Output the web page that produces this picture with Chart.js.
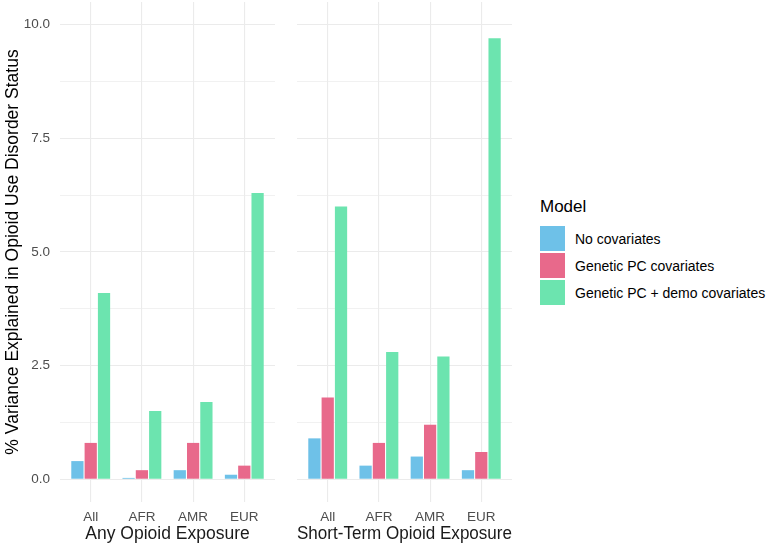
<!DOCTYPE html>
<html>
<head>
<meta charset="utf-8">
<script src="https://cdn.jsdelivr.net/npm/chart.js@4.4.1/dist/chart.umd.min.js"></script>
<style>
  html, body { margin: 0; padding: 0; background: #fff; }
  body { width: 768px; height: 546px; position: relative; overflow: hidden; font-family: 'Liberation Sans', Arial, Helvetica, sans-serif; }
  .wrap { position: absolute; top: 0; }
  #legend { position: absolute; left: 540px; top: 195px; }
  #legend .title { font-size: 17px; color: #000; height: 24px; line-height: 24px; margin-bottom: 6px; }
  #legend .item { display: flex; align-items: center; height: 27px; }
  #legend .sw { width: 25px; height: 25px; margin-right: 10px; }
  #legend .lab { font-size: 14px; color: #000; }
</style>
</head>
<body>
<div class="wrap" style="left:0px;"><canvas id="c1" width="280" height="546"></canvas></div>
<div class="wrap" style="left:292px;"><canvas id="c2" width="225" height="546"></canvas></div>
<div id="legend"></div>
<script>
// ---- data ----
const categories = ['All', 'AFR', 'AMR', 'EUR'];
const facetLabels = ['Any Opioid Exposure', 'Short-Term Opioid Exposure'];
const modelNames = ['No covariates', 'Genetic PC covariates', 'Genetic PC + demo covariates'];
const anyNoCov   = [0.4, 0.03, 0.2, 0.1];
const anyPC      = [0.8, 0.2, 0.8, 0.3];
const anyPCDemo  = [4.1, 1.5, 1.7, 6.3];
const shortNoCov  = [0.9, 0.3, 0.5, 0.2];
const shortPC     = [1.8, 0.8, 1.2, 0.6];
const shortPCDemo = [6.0, 2.8, 2.7, 9.7];
const yGridValues = [0, 1.25, 2.5, 3.75, 5, 6.25, 7.5, 8.75, 10];
const yLabelValues = [0, 2.5, 5, 7.5, 10];
const yMin = -0.5, yMax = 10.5;

const colors = ['#6EC1E8', '#E8698B', '#6CE4AF'];
const FONT = "'Liberation Sans', Arial, Helvetica, sans-serif";
const GRID = '#EBEBEB';

function isLabel(v) { return yLabelValues.some(l => Math.abs(l - v) < 1e-6); }

function ds(vals, i) {
  return {
    label: modelNames[i],
    data: vals.map((v, k) => ({ x: k, y: v })),
    backgroundColor: colors[i],
    borderWidth: 0,
    categoryPercentage: 0.78,
    barPercentage: 0.92
  };
}

function makeChart(id, series, facet, showY) {
  return new Chart(document.getElementById(id), {
    type: 'bar',
    data: { datasets: series.map((s, i) => ds(s, i)) },
    options: {
      responsive: false,
      animation: false,
      events: [],
      layout: { padding: { left: showY ? 0 : 5, right: 5, top: 2, bottom: 0 } },
      plugins: { legend: { display: false }, tooltip: { enabled: false } },
      scales: {
        x: {
          type: 'linear',
          min: -0.6, max: 3.6,
          offset: false,
          afterBuildTicks: s => { s.ticks = categories.map((c, i) => ({ value: i })); },
          afterFit: s => { s.height = 44; s.paddingLeft = 0; s.paddingRight = 0; },
          ticks: {
            autoSkip: false,
            maxRotation: 0,
            padding: 7,
            color: '#4D4D4D',
            font: { family: FONT, size: 13.5 },
            callback: v => categories[v]
          },
          grid: { color: GRID, lineWidth: 1.1, drawTicks: false, offset: false },
          border: { display: false },
          title: {
            display: true,
            text: facet,
            color: '#1A1A1A',
            font: { family: FONT, size: 17.5 },
            padding: { top: 0, bottom: 1 }
          }
        },
        y: {
          min: yMin, max: yMax,
          afterBuildTicks: s => { s.ticks = yGridValues.map(v => ({ value: v })); },
          afterFit: s => { s.width = showY ? 60 : 0; s.paddingTop = 0; s.paddingBottom = 0; },
          ticks: {
            display: showY,
            padding: 10,
            color: '#4D4D4D',
            font: { family: FONT, size: 13.5 },
            callback: v => (isLabel(v) ? v.toFixed(1) : '')
          },
          grid: {
            color: GRID,
            drawTicks: false,
            lineWidth: c => (isLabel(c.tick.value) ? 1.1 : 0.7)
          },
          border: { display: false },
          title: {
            display: showY,
            text: '% Variance Explained in Opioid Use Disorder Status',
            color: '#000',
            font: { family: FONT, size: 17.5 },
            padding: { top: 3, bottom: 0 }
          }
        }
      }
    }
  });
}

makeChart('c1', [anyNoCov, anyPC, anyPCDemo], facetLabels[0], true);
makeChart('c2', [shortNoCov, shortPC, shortPCDemo], facetLabels[1], false);

// legend
const lg = document.getElementById('legend');
const t = document.createElement('div'); t.className = 'title'; t.textContent = 'Model'; lg.appendChild(t);
modelNames.forEach((n, i) => {
  const it = document.createElement('div'); it.className = 'item';
  const sw = document.createElement('div'); sw.className = 'sw'; sw.style.background = colors[i];
  const lb = document.createElement('div'); lb.className = 'lab'; lb.textContent = n;
  it.appendChild(sw); it.appendChild(lb); lg.appendChild(it);
});
</script>
</body>
</html>
